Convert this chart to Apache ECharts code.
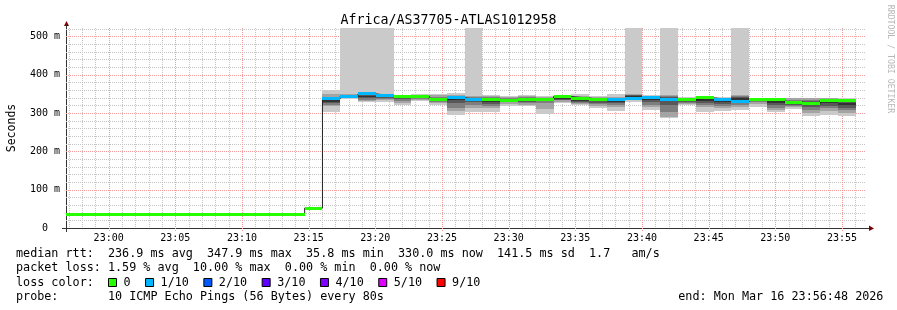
<!DOCTYPE html>
<html>
<head>
<meta charset="utf-8">
<script src="https://cdn.jsdelivr.net/npm/echarts@6/dist/echarts.min.js"></script>
<style>html,body{margin:0;padding:0;background:#fff}#chart{width:897px;height:310px}</style>
</head>
<body>
<div id="chart"></div>
<script>
// ---- data (time in seconds relative to 23:00:00; view 22:56:48 .. 23:56:48) ----
const viewStart = -192, viewEnd = 3408;
const stepStart = [-192, 882, 962, 1042, 1122, 1202, 1282, 1362, 1442, 1522, 1602, 1682, 1762, 1842, 1922, 2002, 2082, 2162, 2242, 2322, 2402, 2482, 2562, 2642, 2722, 2802, 2882, 2962, 3042, 3122, 3202, 3282];
const stepEnd   = [882, 962, 1042, 1122, 1202, 1282, 1362, 1442, 1522, 1602, 1682, 1762, 1842, 1922, 2002, 2082, 2162, 2242, 2322, 2402, 2482, 2562, 2642, 2722, 2802, 2882, 2962, 3042, 3122, 3202, 3282, 3362];
// median rtt (ms)
const median = [35.8, 52, 337, 344, 350, 345, 343, 344.5, 335.5, 339.5, 334.5, 334.5, 334, 335, 336, 343, 339, 334.5, 336, 337, 341.5, 335, 335, 339.5, 335, 329, 335, 335, 327, 324, 334, 332];
// lost pings out of 10
const loss = [0, 0, 1, 1, 1, 1, 0, 0, 0, 1, 1, 0, 0, 0, 0, 0, 0, 0, 1, 1, 1, 1, 0, 0, 1, 1, 0, 0, 0, 0, 0, 0];
// sorted individual pings (ms), rank 1..10
const ping1  = [35.5, 51.6, 304, 336, 328, 330, 321, 332, 321, 295, 304, 304, 319, 319, 298, 326, 320.6, 312.8, 305.8, 330, 308.4, 286.8, 321.4, 304, 305.8, 308, 317, 303, 311, 292.8, 295.4, 292.8];
const ping2  = [35.6, 51.7, 318, 338, 332, 334, 326, 334, 325, 305, 312, 312, 324, 322, 310, 330, 323, 318, 315, 333, 315, 291, 324, 315, 314, 317, 324, 308, 316, 300, 305, 300];
const ping3  = [35.7, 51.8, 322, 339, 335, 337, 332, 336, 330, 312, 320, 318, 328, 326, 325, 333, 326, 323, 322, 336, 322, 303, 327, 320, 318, 322, 328, 312, 319, 308, 312, 307];
const ping4  = [35.7, 51.9, 326, 340, 338, 339, 336, 338, 333, 325, 328, 324, 330, 330, 331, 335, 329, 327, 326, 339, 328, 320, 330, 326, 324, 327, 331, 320, 321, 315, 319, 313];
const ping5  = [35.8, 52.0, 330, 341, 342, 341, 338, 339, 335, 333, 335, 330, 332, 333, 334, 337, 331, 331, 328, 341, 334, 334, 332, 331, 329, 333, 333, 327, 323, 320, 325, 320];
const ping6  = [35.8, 52.0, 334, 343, 345, 343, 341, 341, 337, 337, 337, 334, 334, 335, 336, 340, 334, 334, 333, 344, 338, 338, 334, 336, 333, 338, 335, 332, 328, 326, 330, 327];
const ping7  = [35.9, 52.1, 338, 345, 348, 345, 342, 342, 339, 341, 340, 338, 337, 338, 338, 342, 337, 337, 336, 346, 341, 341, 336, 338, 335, 341, 336, 335, 332, 331, 334, 331];
const ping8  = [35.9, 52.2, 342, 347, 350, 346, 344, 344, 342, 345, 343, 341, 340, 341, 340, 344, 341, 340, 339, 348, 343, 344, 338, 340, 337, 344, 337, 337, 335, 335, 336, 334];
const ping9  = [36.0, 52.3, 350, 349, 353, 348, 346, 347, 346, 348, 345, 344, 343, 344, 343, 346, 345, 343, 342, 350, 345, 347, 340, 341.5, 339, 348, 338, 338.5, 338, 338, 338, 336];
const ping10 = [36.1, 52.4, 360, 560, 560, 560, 347.5, 350, 350, 352, 560, 347.5, 345, 348, 345.7, 347.5, 350, 345.7, 350, 560, 347.5, 560, 343, 343, 341.5, 560, 339.7, 340.5, 339.7, 339.7, 340.5, 338];
// axes
const xMajorTicks = [0, 300, 600, 900, 1200, 1500, 1800, 2100, 2400, 2700, 3000, 3300];
const xTickLabels = ['23:00', '23:05', '23:10', '23:15', '23:20', '23:25', '23:30', '23:35', '23:40', '23:45', '23:50', '23:55'];
const yMajorTicks = [0, 100, 200, 300, 400, 500];
const yTickLabels = ['0', '100 m', '200 m', '300 m', '400 m', '500 m'];
const yMax = 522;
// legend / text
const lossLabels = ['0', '1/10', '2/10', '3/10', '4/10', '5/10', '9/10'];
const lossColors = ['#26ff00', '#00b8ff', '#0059ff', '#5e00ff', '#7e00ff', '#dd00ff', '#ff0000'];
const titleText = 'Africa/AS37705-ATLAS1012958';
const statsRtt  = 'median rtt:  236.9 ms avg  347.9 ms max  35.8 ms min  330.0 ms now  141.5 ms sd  1.7   am/s';
const statsLoss = 'packet loss: 1.59 % avg  10.00 % max  0.00 % min  0.00 % now';
const lossTitle = 'loss color:';
const probeText = 'probe:       10 ICMP Echo Pings (56 Bytes) every 80s';
const endText   = 'end: Mon Mar 16 23:56:48 2026';

// ---- styles ----
const MONO = "'DejaVu Sans Mono', monospace";
const smokeShades = ['#cacaca', '#a4a4a4', '#7e7e7e', '#585858', '#323232'];
const minorGrid = '#c4c4c4', majorGrid = '#f49a9a';

// ---- build series data ----
const pings = [ping1, ping2, ping3, ping4, ping5, ping6, ping7, ping8, ping9, ping10];
const smokeData = [];
for (let i = 0; i < stepStart.length; i++) {
  for (let b = 0; b < 5; b++) smokeData.push([stepStart[i], stepEnd[i], pings[b][i], pings[9 - b][i], b]);
}
const medianLine = stepStart.map((t, i) => [t, median[i]]);
medianLine.push([stepEnd[stepEnd.length - 1], median[median.length - 1]]);
const lossData = stepStart.map((t, i) => [t, stepEnd[i], median[i], loss[i]]);
function lossColorIndex(n) { return n >= 9 ? 6 : Math.min(n, 5); }

const gridData = [];
for (let t = Math.ceil(viewStart / 60) * 60; t < viewEnd; t += 60) gridData.push([0, t]);
xMajorTicks.forEach(t => gridData.push([1, t]));
for (let v = 20; v <= yMax; v += 20) gridData.push([2, v]);
yMajorTicks.forEach(v => { if (v > 0) gridData.push([3, v]); });

function gridItem(params, api) {
  const kind = api.value(0), v = api.value(1), cs = params.coordSys;
  let shape;
  if (kind < 2) {
    const x = Math.round(api.coord([v, 0])[0]) + 0.5;
    shape = { x1: x, y1: cs.y, x2: x, y2: cs.y + cs.height + (kind === 1 ? 3 : 0) };
  } else {
    const y = Math.round(api.coord([0, v])[1]) + 0.5;
    shape = { x1: cs.x, y1: y, x2: cs.x + cs.width, y2: y };
  }
  return { type: 'line', shape, z2: kind % 2 ? 2 : 1,
    style: { stroke: kind % 2 ? majorGrid : minorGrid, lineWidth: 1, lineDash: [1, 1] } };
}
function smokeItem(params, api) {
  const t0 = api.value(0), t1 = api.value(1), lo = api.value(2), hi = api.value(3), b = api.value(4);
  const p0 = api.coord([t0, hi]), p1 = api.coord([t1, lo]);
  const x0 = Math.round(p0[0]), x1 = Math.round(p1[0]), y0 = Math.round(p0[1]), y1 = Math.round(p1[1]);
  const cs = params.coordSys;
  const r = echarts.graphic.clipRectByRect({ x: x0, y: y0, width: x1 - x0, height: y1 - y0 },
    { x: cs.x, y: cs.y, width: cs.width, height: cs.height });
  if (!r || r.height <= 0) return;
  return { type: 'rect', shape: r, z2: b, style: { fill: smokeShades[b] } };
}
function lossItem(params, api) {
  const t0 = api.value(0), t1 = api.value(1), m = api.value(2), n = api.value(3);
  const p0 = api.coord([t0, m]), p1 = api.coord([t1, m]);
  const x0 = Math.round(p0[0]), x1 = Math.round(p1[0]), y = Math.round(p0[1] - 1.5);
  return { type: 'rect', shape: { x: x0, y: y, width: x1 - x0, height: 3 }, style: { fill: lossColors[lossColorIndex(n)] } };
}

const chart = echarts.init(document.getElementById('chart'), null, { renderer: 'canvas' });
chart.setOption({
  animation: false,
  backgroundColor: '#ffffff',
  title: { text: titleText, left: 'center', top: 14, padding: 0,
    textStyle: { fontFamily: MONO, fontSize: 13.3, fontWeight: 'normal', color: '#000' } },
  grid: { left: 66, top: 28, width: 800, height: 200, containLabel: false, outerBoundsMode: 'none' },
  xAxis: {
    type: 'value', min: viewStart, max: viewEnd,
    axisLine: { show: true, onZero: false, lineStyle: { color: '#333', width: 1 } },
    axisTick: { show: false }, splitLine: { show: false },
    axisLabel: { customValues: xMajorTicks, margin: 5, color: '#000', fontFamily: MONO, fontSize: 10,
      formatter: v => { const i = xMajorTicks.indexOf(v); return i >= 0 ? xTickLabels[i] : ''; } }
  },
  yAxis: {
    type: 'value', min: 0, max: yMax,
    name: 'Seconds', nameLocation: 'middle', nameRotate: 90, nameGap: 48,
    nameTextStyle: { fontFamily: MONO, fontSize: 11.5, color: '#000' },
    axisLine: { show: true, onZero: false, lineStyle: { color: '#333', width: 1 } },
    axisTick: { show: false }, splitLine: { show: false },
    axisLabel: { customValues: yMajorTicks, margin: 6, color: '#000', fontFamily: MONO, fontSize: 10,
      formatter: v => { const i = yMajorTicks.indexOf(v); if (i < 0) return ''; const s = yTickLabels[i]; return s.indexOf(' ') < 0 ? s + '  ' : s; } }
  },
  legend: {
    data: lossLabels, left: 108, top: 276.5, padding: 0, itemGap: 14.5, itemWidth: 8, itemHeight: 8,
    icon: 'rect', selectedMode: false,
    itemStyle: { borderColor: '#000', borderWidth: 1 },
    textStyle: { fontFamily: MONO, fontSize: 11.75, color: '#000', padding: [0, 0, 0, 2] }
  },
  series: [
    { type: 'custom', name: 'grid', silent: true, data: gridData, renderItem: gridItem, z: 1, clip: false },
    { type: 'custom', name: 'smoke', silent: true, data: smokeData, renderItem: smokeItem, z: 2 },
    { type: 'line', name: 'median', silent: true, data: medianLine, step: 'end', symbol: 'none', showSymbol: false,
      lineStyle: { color: '#202020', width: 1 }, z: 3 },
    { type: 'custom', name: 'median loss', silent: true, data: lossData, renderItem: lossItem, z: 4 }
  ].concat(lossLabels.map((l, i) => ({ type: 'line', name: l, data: [], itemStyle: { color: lossColors[i] }, lineStyle: { color: lossColors[i] } }))),
  graphic: [
    { type: 'polygon', z: 100, shape: { points: [[64, 26], [69, 26], [66.5, 21]] }, style: { fill: '#7f0000' } },
    { type: 'line', z: 100, shape: { x1: 66.5, y1: 28, x2: 66.5, y2: 25 }, style: { stroke: '#333', lineWidth: 1 } },
    { type: 'line', z: 100, shape: { x1: 66.5, y1: 228, x2: 66.5, y2: 232 }, style: { stroke: '#333', lineWidth: 1 } },
    { type: 'polygon', z: 100, shape: { points: [[869, 225.5], [869, 231], [874, 228.5]] }, style: { fill: '#7f0000' } },
    { type: 'line', z: 100, shape: { x1: 866, y1: 228.5, x2: 869, y2: 228.5 }, style: { stroke: '#333', lineWidth: 1 } },
    { type: 'line', z: 100, shape: { x1: 62, y1: 228.5, x2: 66, y2: 228.5 }, style: { stroke: '#333', lineWidth: 1 } },
    { type: 'text', x: 890, y: 59, rotation: -Math.PI / 2, z: 100,
      style: { text: 'RRDTOOL / TOBI OETIKER', font: '8.2px ' + MONO, fill: '#b8b8b8', align: 'center', verticalAlign: 'middle' } },
    { type: 'text', x: 16, y: 254.3, z: 100, style: { text: statsRtt, font: '11.75px ' + MONO, fill: '#000', align: 'left', verticalAlign: 'middle' } },
    { type: 'text', x: 16, y: 268.3, z: 100, style: { text: statsLoss, font: '11.75px ' + MONO, fill: '#000', align: 'left', verticalAlign: 'middle' } },
    { type: 'text', x: 16, y: 282.5, z: 100, style: { text: lossTitle, font: '11.75px ' + MONO, fill: '#000', align: 'left', verticalAlign: 'middle' } },
    { type: 'text', x: 16, y: 296.7, z: 100, style: { text: probeText, font: '11.75px ' + MONO, fill: '#000', align: 'left', verticalAlign: 'middle' } },
    { type: 'text', x: 678.3, y: 296.7, z: 100, style: { text: endText, font: '11.75px ' + MONO, fill: '#000', align: 'left', verticalAlign: 'middle' } }
  ]
});
</script>
</body>
</html>
